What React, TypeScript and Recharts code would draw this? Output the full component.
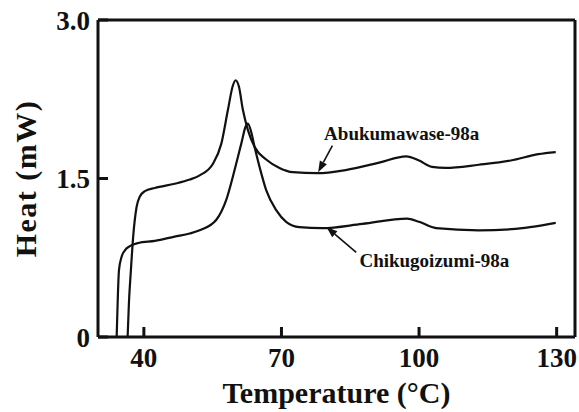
import { Line, LineChart, ReferenceDot, ReferenceLine, XAxis, YAxis } from 'recharts'

const FONT = '"Liberation Serif", "Times New Roman", serif'
const INK = '#111111'

const xTicks = [40, 70, 100, 130]
const yTicks = [0, 1.5, 3]

// Abukumawase-98a trace (upper curve)
const abuTemp = [
  36.46, 36.74, 37.17, 37.67, 38.41, 39.13, 40.22, 42.39, 46.74, 50.0, 52.17, 55.07, 56.89, 58.33, 59.41, 60.0,
  60.72, 61.59, 62.67, 64.13, 66.67, 69.57, 72.46, 77.8, 84.0, 91.3, 97.2, 100.0, 102.8, 105.8, 113.0, 120.0,
  126.0, 129.8,
]
const abuHeat = [
  0, 0.32, 0.63, 0.95, 1.23, 1.33, 1.38, 1.41, 1.45, 1.49, 1.53, 1.64, 1.83, 2.15, 2.38, 2.43, 2.37, 2.15, 1.96,
  1.8, 1.68, 1.6, 1.56, 1.55, 1.58, 1.65, 1.71, 1.67, 1.61, 1.6, 1.63, 1.67, 1.73, 1.75,
]

// Chikugoizumi-98a trace (lower curve)
const chiTemp = [
  34.07, 34.28, 34.57, 35.15, 35.87, 36.96, 38.76, 42.4, 46.7, 50.0, 52.17, 55.8, 57.98, 59.78, 61.24, 62.17, 62.67,
  63.41, 64.13, 65.22, 66.67, 68.85, 71.02, 73.91, 78.9, 87.6, 97.4, 100.0, 103.7, 113.0, 120.2, 129.8,
]
const chiHeat = [
  0, 0.32, 0.63, 0.76, 0.82, 0.86, 0.89, 0.91, 0.95, 0.98, 1.01, 1.11, 1.3, 1.58, 1.83, 1.99, 2.02, 1.94, 1.8, 1.61,
  1.39, 1.2, 1.09, 1.04, 1.03, 1.07, 1.12, 1.09, 1.03, 1.01, 1.02, 1.08,
]

const abuData = abuTemp.map((t, i) => ({ temp: t, heat: abuHeat[i] }))
const chiData = chiTemp.map((t, i) => ({ temp: t, heat: chiHeat[i] }))

const arrowShape = (props: any) => {
  const { x1, y1, x2, y2 } = props
  if ([x1, y1, x2, y2].some((v) => typeof v !== 'number')) return <g />
  const ang = Math.atan2(y2 - y1, x2 - x1)
  const len = 11
  const half = 4
  const bx = x2 - len * Math.cos(ang)
  const by = y2 - len * Math.sin(ang)
  const px = -Math.sin(ang) * half
  const py = Math.cos(ang) * half
  return (
    <g>
      <line x1={x1} y1={y1} x2={bx} y2={by} stroke={INK} strokeWidth={1.6} />
      <polygon points={`${x2},${y2} ${bx + px},${by + py} ${bx - px},${by - py}`} fill={INK} />
    </g>
  )
}

const textShape = (value: string) => (props: any) => (
  <text x={props.cx} y={props.cy} fontFamily={FONT} fontWeight="bold" fontSize={19} fill={INK}>
    {value}
  </text>
)

export default function App() {
  return (
    <div style={{ position: 'fixed', left: 0, top: 0, background: '#fff' }}>
      <LineChart width={579} height={412} margin={{ top: 20, right: 4, bottom: 0, left: 0 }}>
        <XAxis
          type="number"
          dataKey="temp"
          domain={[30, 134]}
          ticks={xTicks}
          allowDataOverflow
          height={75}
          axisLine={{ stroke: INK, strokeWidth: 3 }}
          tickLine={{ stroke: INK, strokeWidth: 3 }}
          tickSize={-10}
          tickMargin={21}
          tick={{ fill: INK, fontSize: 27, fontFamily: FONT, fontWeight: 'bold' }}
          label={{
            value: 'Temperature (°C)',
            position: 'insideBottom',
            offset: 9,
            fill: INK,
            fontSize: 30,
            fontFamily: FONT,
            fontWeight: 'bold',
          }}
        />
        <YAxis
          type="number"
          domain={[0, 3]}
          ticks={yTicks}
          allowDataOverflow
          width={98}
          axisLine={{ stroke: INK, strokeWidth: 3 }}
          tickLine={{ stroke: INK, strokeWidth: 3 }}
          tickSize={-10}
          tickMargin={18}
          tickFormatter={(v: number) => (v === 0 ? '0' : v.toFixed(1))}
          tick={{ fill: INK, fontSize: 27, fontFamily: FONT, fontWeight: 'bold' }}
          label={{
            value: 'Heat (mW)',
            angle: -90,
            position: 'insideLeft',
            offset: 25,
            fill: INK,
            fontSize: 30,
            fontFamily: FONT,
            fontWeight: 'bold',
            style: { textAnchor: 'middle', letterSpacing: '1.5px' },
          }}
        />
        <ReferenceLine y={3} stroke={INK} strokeWidth={3} />
        <ReferenceLine x={134} stroke={INK} strokeWidth={3} />
        <Line
          data={abuData}
          dataKey="heat"
          type="monotone"
          stroke={INK}
          strokeWidth={2.2}
          dot={false}
          isAnimationActive={false}
        />
        <Line
          data={chiData}
          dataKey="heat"
          type="monotone"
          stroke={INK}
          strokeWidth={2.2}
          dot={false}
          isAnimationActive={false}
        />
        <ReferenceLine
          segment={[
            { x: 81.1, y: 1.81 },
            { x: 78.0, y: 1.56 },
          ]}
          shape={arrowShape}
        />
        <ReferenceLine
          segment={[
            { x: 86.3, y: 0.8 },
            { x: 79.8, y: 1.04 },
          ]}
          shape={arrowShape}
        />
        <ReferenceDot x={79.3} y={1.86} r={0} shape={textShape('Abukumawase-98a')} />
        <ReferenceDot x={87.0} y={0.66} r={0} shape={textShape('Chikugoizumi-98a')} />
      </LineChart>
    </div>
  )
}
